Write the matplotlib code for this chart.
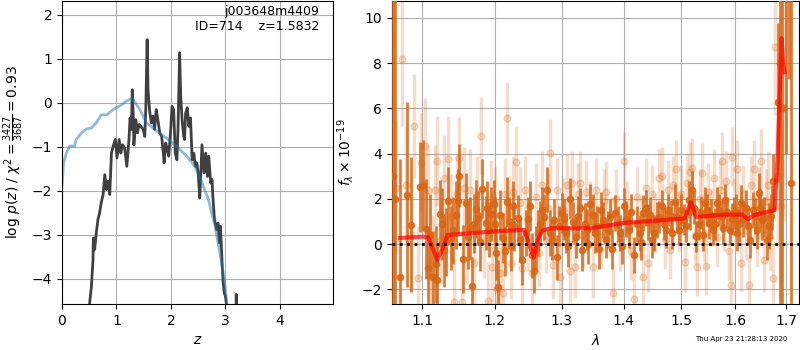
import matplotlib
matplotlib.use('Agg')
import matplotlib.pyplot as plt
from matplotlib.ticker import NullLocator, NullFormatter

# ---- left panel: log p(z) ----
z_pz = [0.505, 0.54, 0.57, 0.575, 0.60, 0.63, 0.66, 0.69, 0.72, 0.755, 0.786, 0.816, 0.847, 0.877,
        0.908, 0.94, 0.98, 1.01, 1.05, 1.08, 1.11, 1.15, 1.19, 1.23, 1.25, 1.275, 1.29, 1.31, 1.32,
        1.355, 1.385, 1.416, 1.446, 1.49, 1.52, 1.54, 1.563, 1.58, 1.61, 1.64, 1.67, 1.70, 1.73,
        1.76, 1.795, 1.83, 1.86, 1.875, 1.905, 1.935, 1.96, 2.0, 2.02, 2.05, 2.08, 2.11, 2.13, 2.16,
        2.18, 2.205, 2.235, 2.25, 2.27, 2.30, 2.33, 2.36, 2.39, 2.42, 2.45, 2.475, 2.50, 2.53, 2.55,
        2.57, 2.61, 2.64, 2.67, 2.695, 2.73, 2.755, 2.77, 2.80, 2.84, 2.865, 2.89, 2.91, 2.94, 2.96,
        2.98, 3.0, 3.02, 3.05, 3.19, 3.20, 3.21]
logpz = [-4.58, -4.17, -3.56, -3.07, -3.33, -2.95, -2.65, -2.5, -2.27, -2.08, -1.63, -1.97, -1.78, -2.08,
         -1.14, -0.98, -0.83, -1.25, -0.83, -1.14, -0.95, -1.02, -1.44, -0.83, -0.34, -0.6, 0.30, -0.34, -0.95,
         -0.38, -0.68, -0.49, -0.53, -0.6, -0.76, -0.08, 1.44, 0.30, -0.19, -0.45, -0.30, -0.6, -0.15,
         -0.38, -0.68, -0.76, -1.14, -1.36, -0.91, -1.06, -1.21, -0.53, -0.08, -0.15, -1.14, -1.29, -0.6, 1.14,
         0.15, -0.38, -0.76, -0.83, -0.23, -0.11, -0.53, -0.34, -1.29, -1.14, -1.44, -1.36, -1.59, -2.16, -1.59,
         -0.95, -1.59, -1.14, -1.67, -1.21, -1.82, -1.74, -2.12, -2.65, -2.88, -2.73, -3.18, -2.80, -3.64, -4.09,
         -4.32, -4.39, -4.58, -6.0, -6.0, -4.35, -6.0]

z_chi = [0.0, 0.03, 0.08, 0.14, 0.23, 0.26, 0.36, 0.45, 0.54, 0.63, 0.72, 0.82, 0.94, 1.07, 1.18, 1.29,
         1.43, 1.55, 1.74, 1.92, 2.10, 2.29, 2.44, 2.56, 2.69, 2.81, 2.90, 2.98, 3.02, 3.05]
logp_chi = [-1.9, -1.36, -1.14, -0.98, -0.98, -0.83, -0.68, -0.59, -0.57, -0.45, -0.27, -0.27, -0.15, -0.06,
            0.04, 0.11, -0.15, -0.45, -0.64, -0.80, -0.98, -1.21, -1.44, -1.78, -2.20, -2.80, -3.41, -4.02,
            -4.47, -5.0]

# ---- right panel: spectrum (solid points) ----
lam_d = [1.0625, 1.0645, 1.0714, 1.0806, 1.0857, 1.0970, 1.1050, 1.1080, 1.1150, 1.1200, 1.1240, 1.1290,
         1.1340, 1.1380, 1.1450, 1.1500, 1.1550, 1.1590, 1.1650, 1.1680, 1.1730, 1.1760, 1.1820, 1.1870,
         1.1917, 1.1950, 1.1980, 1.2020, 1.2050, 1.2120, 1.2170, 1.2230, 1.2280, 1.2330, 1.2400, 1.2450,
         1.2520, 1.2570, 1.2640, 1.2700, 1.2770, 1.2820, 1.2880, 1.2930, 1.3000, 1.3070, 1.3130, 1.3180,
         1.3260, 1.3310, 1.3390, 1.3450, 1.3520, 1.3590, 1.3660, 1.3740, 1.3800, 1.3850, 1.3940, 1.4000,
         1.4090, 1.4180, 1.4270, 1.4330, 1.4410, 1.4480, 1.4570, 1.4650, 1.4720, 1.4810, 1.4880, 1.4950,
         1.5040, 1.5130, 1.5190, 1.5270, 1.5350, 1.5430, 1.5500, 1.5570, 1.5650, 1.5740, 1.5800, 1.5890,
         1.5970, 1.6040, 1.6100, 1.6200, 1.6290, 1.6390, 1.6450, 1.6510, 1.6610, 1.6690, 1.6740, 1.6830,
         1.6870, 1.6910, 1.6995, 1.7055, 1.7100,
         1.1010, 1.1110, 1.1180, 1.1270, 1.1320, 1.1420, 1.1480, 1.1620, 1.1700, 1.1790, 1.1890, 1.2000,
         1.2080, 1.2150, 1.2200, 1.2260, 1.2360, 1.2480, 1.2540, 1.2610, 1.2670, 1.2730, 1.2850, 1.2960,
         1.3040, 1.3100, 1.3220, 1.3290, 1.3360, 1.3420, 1.3490, 1.3560, 1.3630, 1.3700, 1.3770, 1.3900,
         1.3970, 1.4040, 1.4130, 1.4220, 1.4300, 1.4370, 1.4440, 1.4520, 1.4610, 1.4690, 1.4760, 1.4840,
         1.4920, 1.4990, 1.5080, 1.5160, 1.5230, 1.5310, 1.5390, 1.5470, 1.5540, 1.5610, 1.5690, 1.5770,
         1.5850, 1.5930, 1.6010, 1.6070, 1.6150, 1.6240, 1.6340, 1.6420, 1.6480, 1.6560, 1.6650, 1.6710]
flux_d = [3.0, 2.0, -1.44, 2.19, 0.86, 2.53, 0.67, -1.07, -1.44, -1.58, 1.35, -0.28,
          1.9, 0.27, 1.3, 3.03, -0.67, 1.82, 0.7, -1.85, 1.55, 1.14, 2.44, 0.92,
          0.64, 1.33, 1.75, -0.4, -1.9, 0.27, 1.85, -0.1, 0.78, 1.15, -0.7, 0.49,
          1.67, -1.18, 0.49, 1.52, 2.41, 0.49, 1.08, -0.58, 1.37, 0.49, 2.0, 0.96,
          1.23, -0.28, 0.64, 1.75, 0.49, -0.22, 1.08, 0.64, -0.22, 1.37, 0.49, 1.67,
          0.64, -0.47, 0.49, 1.37, 0.96, 0.19, 1.08, 1.67, 0.64, 1.23, 1.85, 0.64,
          1.08, 1.97, 2.41, 0.34, 1.37, 1.82, 0.93, 0.64, 1.82, 1.23, 1.97, 0.64,
          1.37, 0.49, 1.82, 1.6, 0.19, 1.23, 2.26, 1.08, 0.19, 1.23, 2.78, 6.26,
          8.0, 6.0, 13.0, 15.0, 2.7,
          2.6, 0.4, -0.9, 0.9, 0.1, 0.6, 1.9, 0.3, 0.9, 0.1, 1.6, 0.9,
          1.3, -0.3, 1.0, 1.7, 0.2, 1.1, -0.5, -0.2, 0.9, 1.2, 0.2, 0.8,
          1.1, -0.1, 0.3, 1.6, 0.9, 0.0, 1.3, 0.8, 1.5, 0.2, 1.2, 0.9,
          -0.1, 1.1, 1.4, 0.9, 0.1, 1.6, 1.3, 0.5, 1.2, 0.9, 1.5, 0.5,
          1.2, 1.5, 0.8, 1.4, 1.6, 0.9, 0.4, 1.5, 1.3, 0.9, 1.5, 0.7,
          1.4, 1.1, 1.4, 0.9, 1.1, 0.8, 1.5, 0.6, 1.6, 1.2, 0.8, 1.6]
err_d = [25.0, 25.0, 5.2, 4.1, 3.0, 2.0, 2.2, 1.8, 2.0, 1.6, 1.5, 1.6,
         1.5, 1.4, 1.5, 1.4, 1.5, 1.3, 1.4, 1.3, 1.3, 1.2, 1.3, 1.2,
         1.2, 1.2, 1.1, 1.2, 1.2, 1.1, 1.1, 1.1, 1.1, 1.0, 1.1, 1.0,
         1.1, 1.0, 1.0, 1.0, 1.0, 1.0, 0.9, 1.0, 0.9, 0.9, 0.9, 0.9,
         0.9, 0.9, 0.9, 0.9, 0.9, 0.9, 0.8, 0.8, 0.9, 0.8, 0.8, 0.8,
         0.8, 0.8, 0.8, 0.8, 0.8, 0.8, 0.8, 0.7, 0.8, 0.7, 0.8, 0.7,
         0.7, 0.8, 0.8, 0.7, 0.7, 0.7, 0.7, 0.7, 0.7, 0.7, 0.7, 0.7,
         0.7, 0.8, 0.8, 0.8, 0.8, 0.8, 0.9, 0.9, 0.9, 1.0, 1.2, 3.5,
         12.0, 10.0, 9.0, 7.7, 20.0,
         2.0, 1.8, 1.7, 1.6, 1.5, 1.5, 1.4, 1.4, 1.3, 1.3, 1.2, 1.2,
         1.1, 1.1, 1.1, 1.1, 1.0, 1.0, 1.0, 1.0, 1.0, 1.0, 0.9, 0.9,
         0.9, 0.9, 0.9, 0.9, 0.9, 0.9, 0.9, 0.9, 0.8, 0.8, 0.8, 0.8,
         0.8, 0.8, 0.8, 0.8, 0.8, 0.8, 0.8, 0.8, 0.7, 0.7, 0.7, 0.7,
         0.7, 0.7, 0.7, 0.8, 0.7, 0.7, 0.7, 0.7, 0.7, 0.7, 0.7, 0.7,
         0.7, 0.7, 0.8, 0.8, 0.8, 0.8, 0.8, 0.8, 0.9, 0.9, 1.0, 1.0]

# ---- right panel: spectrum (faint points) ----
lam_l = [1.0660, 1.0740, 1.0790, 1.0850, 1.0890, 1.0940, 1.0990, 1.1040, 1.1080, 1.1100, 1.1130, 1.1170,
         1.1200, 1.1250, 1.1290, 1.1340, 1.1390, 1.1430, 1.1470, 1.1500, 1.1530, 1.1570, 1.1610, 1.1650,
         1.1700, 1.1740, 1.1800, 1.1840, 1.1900, 1.1940, 1.1960, 1.2000, 1.2030, 1.2080, 1.2110, 1.2140,
         1.2170, 1.2200, 1.2230, 1.2270, 1.2300, 1.2360, 1.2400, 1.2440, 1.2490, 1.2540, 1.2600, 1.2650,
         1.2700, 1.2750, 1.2790, 1.2820, 1.2860, 1.2920, 1.2970, 1.3020, 1.3080, 1.3130, 1.3160, 1.3200,
         1.3250, 1.3280, 1.3330, 1.3380, 1.3440, 1.3490, 1.3550, 1.3620, 1.3670, 1.3710, 1.3780, 1.3820,
         1.3870, 1.3930, 1.4000, 1.4050, 1.4120, 1.4180, 1.4230, 1.4300, 1.4330, 1.4380, 1.4420, 1.4480,
         1.4540, 1.4600, 1.4660, 1.4700, 1.4760, 1.4800, 1.4850, 1.4900, 1.4960, 1.5000, 1.5060, 1.5100,
         1.5150, 1.5190, 1.5240, 1.5280, 1.5330, 1.5370, 1.5410, 1.5440, 1.5490, 1.5540, 1.5600, 1.5660,
         1.5700, 1.5740, 1.5780, 1.5830, 1.5870, 1.5920, 1.5930, 1.5980, 1.6040, 1.6100, 1.6150, 1.6200,
         1.6270, 1.6310, 1.6360, 1.6410, 1.6460, 1.6500, 1.6550, 1.6590, 1.6630, 1.6680, 1.6740, 1.6770,
         1.6840, 1.6900, 1.6960]
flux_l = [2.5, 8.2, 2.6, 0.4, 5.2, -1.5, 3.6, 4.35, 2.4, -1.44, -0.7, 2.4,
          3.67, 0.19, 2.9, 3.75, 1.2, -2.55, 2.2, 3.8, -2.55, 2.5, 0.1, 2.4,
          -0.84, 2.2, 4.78, 0.2, -2.5, 2.0, -1.0, 1.8, -2.0, -1.3, -2.18, 2.2,
          5.56, 1.4, -0.84, 2.3, 3.64, 1.8, -1.07, 2.4, 0.3, -1.3, 2.1, -0.4,
          2.6, 0.2, 1.6, 4.04, -0.92, 2.4, -1.44, 1.5, 2.6, -1.2, 2.7, -1.0,
          2.2, 2.7, 0.4, 2.3, 1.4, -1.0, 2.4, 0.3, 1.9, 2.29, 0.8, -2.18,
          2.0, 0.1, 3.67, 1.5, -0.3, -2.44, 2.1, 0.7, -1.44, 2.5, -0.84, 2.2,
          0.9, 2.9, 3.0, 0.2, 2.4, -0.25, 2.6, 3.3, 1.0, 2.2, -0.8, 2.7,
          3.2, 3.37, 0.4, -1.0, 2.0, 3.15, 0.5, -0.96, 2.3, 1.2, 2.9, 0.3,
          2.4, 3.67, 1.0, 2.8, -0.3, -1.8, 3.86, 1.6, 3.3, -0.84, 2.2, 0.6,
          -1.8, 2.6, 3.3, 0.4, 2.0, 3.67, -0.7, 1.9, 2.6, 0.3, -1.5, 8.7,
          3.0, 1.67, 6.0]
err_l = [3.0, 3.0, 2.6, 2.5, 2.3, 2.3, 2.2, 2.1, 2.0, 2.0, 2.0, 2.0,
         2.0, 1.9, 1.9, 1.9, 1.9, 1.9, 1.8, 1.8, 1.8, 1.8, 1.8, 1.8,
         1.8, 1.7, 1.7, 1.7, 1.7, 1.7, 1.7, 1.6, 1.6, 1.6, 1.6, 1.6,
         1.6, 1.6, 1.6, 1.6, 1.6, 1.6, 1.6, 1.5, 1.5, 1.5, 1.5, 1.5,
         1.5, 1.5, 1.5, 1.5, 1.5, 1.4, 1.4, 1.4, 1.4, 1.4, 1.4, 1.4,
         1.4, 1.4, 1.4, 1.4, 1.4, 1.4, 1.4, 1.4, 1.4, 1.4, 1.3, 1.3,
         1.3, 1.3, 1.3, 1.3, 1.3, 1.3, 1.3, 1.3, 1.3, 1.3, 1.3, 1.3,
         1.3, 1.3, 1.3, 1.3, 1.3, 1.3, 1.3, 1.3, 1.3, 1.3, 1.3, 1.3,
         1.3, 1.3, 1.3, 1.3, 1.3, 1.3, 1.3, 1.3, 1.3, 1.3, 1.3, 1.3,
         1.3, 1.3, 1.3, 1.3, 1.3, 1.3, 1.3, 1.3, 1.3, 1.3, 1.3, 1.3,
         1.3, 1.3, 1.3, 1.4, 1.4, 1.4, 1.4, 1.4, 1.5, 1.5, 1.6, 3.0,
         3.0, 3.5, 5.0]

# ---- right panel: model ----
lam_model = [1.0714, 1.1014, 1.108, 1.120, 1.127, 1.134, 1.199, 1.243, 1.257, 1.263, 1.270, 1.283,
             1.346, 1.400, 1.500, 1.506, 1.517, 1.527, 1.580, 1.614, 1.624, 1.636, 1.668, 1.677,
             1.683, 1.688, 1.691, 1.694, 1.697]
flux_model = [0.27, 0.33, 0.30, -0.70, -0.20, 0.40, 0.56, 0.63, -0.60, 0.19, 0.60, 0.70,
              0.70, 0.93, 1.12, 1.15, 1.85, 1.20, 1.30, 1.30, 1.10, 1.28, 1.45, 1.50,
              3.9, 7.2, 9.1, 8.0, 7.6]

xtick_vals = [1.1, 1.2, 1.3, 1.4, 1.5, 1.6, 1.7]

orange = (0.85, 0.40, 0.08)

fig = plt.figure(figsize=(8, 3.5), dpi=100)
ax1 = fig.add_axes([0.0775, 0.1314, 0.339, 0.866])
ax2 = fig.add_axes([0.49, 0.1314, 0.509, 0.866])

# left
ax1.plot(z_pz, logpz, color='0.25', lw=2)
ax1.plot(z_chi, logp_chi, color='#1f77b4', alpha=0.5, lw=2)
ax1.set_xlim(0, 4.98)
ax1.set_ylim(-4.57, 2.32)
ax1.set_xticks([0, 1, 2, 3, 4])
ax1.set_yticks([-4, -3, -2, -1, 0, 1, 2])
ax1.grid()
ax1.set_xlabel('$z$')
ax1.set_ylabel(r'log $p(z)$ / $\chi^2=\frac{3427}{3687}=0.93$')
ax1.text(0.95, 0.985, 'j003648m4409\nID=714    z=1.5832', ha='right', va='top',
         transform=ax1.transAxes, fontsize=9)

# right
ax2.errorbar(lam_l, flux_l, err_l, fmt='o', color=orange, alpha=0.22, ms=5,
             elinewidth=2.5, zorder=2)
ax2.errorbar(lam_d, flux_d, err_d, fmt='o', color=orange, alpha=0.85, ms=4.5,
             elinewidth=2, zorder=3)
ax2.plot(lam_model, flux_model, color='red', alpha=0.7, lw=3, zorder=4)
ax2.axhline(0, color='k', ls=':', lw=2, zorder=5)
ax2.set_xscale('log')
ax2.set_xlim(1.061, 1.727)
ax2.set_ylim(-2.65, 10.75)
ax2.set_xticks(xtick_vals)
ax2.set_xticklabels([f'{v:.1f}' for v in xtick_vals])
ax2.xaxis.set_minor_locator(NullLocator())
ax2.xaxis.set_minor_formatter(NullFormatter())
ax2.set_yticks([-2, 0, 2, 4, 6, 8, 10])
ax2.grid()
ax2.set_xlabel(r'$\lambda$')
ax2.set_ylabel(r'$f_\lambda \times 10^{-19}$')

fig.text(0.984, 0.022, 'Thu Apr 23 21:28:13 2020', ha='right', va='bottom', fontsize=5)

fig.savefig('out.png', dpi=100)
